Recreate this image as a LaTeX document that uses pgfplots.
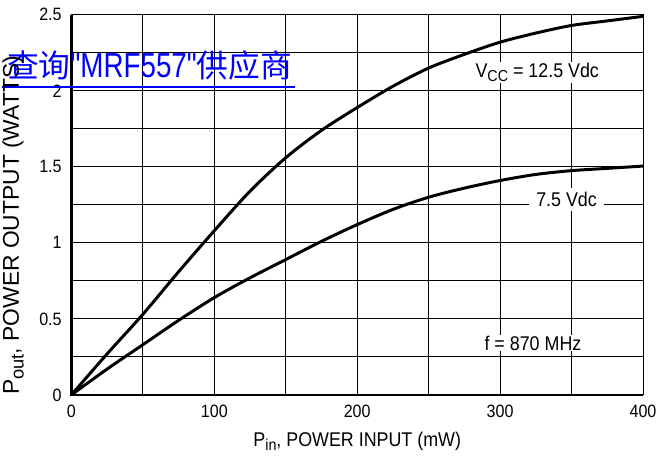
\documentclass[border=0pt]{standalone}
\usepackage{pgfplots}
\pgfplotsset{compat=1.18}
\usepackage{fontspec}
\setmainfont{Liberation Sans}[FakeStretch=0.9]
\newfontfamily\arial{Liberation Sans}
\newfontfamily\narrow{Liberation Sans}[FakeStretch=0.8]
\newfontfamily\cjk{Noto Sans CJK SC}
\newcommand{\sub}[1]{\raisebox{-0.4ex}{\fontsize{0.8\fontdimen6\font}{1em}\selectfont #1}}

\begin{document}
\fontsize{20}{24}\selectfont
\begin{tikzpicture}
\begin{axis}[
    scale only axis,
    width=576pt, height=383pt,
    xmin=0, xmax=400,
    ymin=0, ymax=2.5,
    xtick={0,100,...,400},
    minor xtick={50,150,...,350},
    ytick={0,0.5,...,2.5},
    minor ytick={0.25,0.75,...,2.25},
    grid=both,
    major grid style={black, line width=0.9pt},
    minor grid style={black, line width=0.9pt},
    major tick length=0pt, minor tick length=0pt,
    axis line style={black, line width=0.9pt},
    /pgf/number format/assume math mode=true,
    ticklabel style={font=\fontsize{18}{20}\selectfont},
    xticklabel style={yshift=-3pt},
    yticklabel style={xshift=-3pt},
    xlabel={P\sub{in}, POWER INPUT (mW)},
    ylabel={P\sub{out}, POWER OUTPUT (WATTS)},
    xlabel style={yshift=-1pt},
    ylabel style={font=\arial\fontsize{23}{27}\selectfont, inner sep=0pt,
        at={(axis description cs:-0.102,0.0)}, anchor=west},
    clip=false,
]
\addplot[black, line width=3pt, smooth] coordinates {
    (0,0) (25,0.27) (50,0.53) (75,0.81) (100,1.08) (125,1.34) (150,1.56)
    (175,1.74) (200,1.89) (225,2.03) (250,2.15) (275,2.24) (300,2.32)
    (325,2.38) (350,2.43) (375,2.46) (400,2.49)
};
\addplot[black, line width=3pt, smooth] coordinates {
    (0,0) (25,0.17) (50,0.33) (75,0.49) (100,0.64) (125,0.77) (150,0.89)
    (175,1.01) (200,1.12) (225,1.22) (250,1.30) (275,1.36) (300,1.41)
    (325,1.45) (350,1.475) (375,1.49) (400,1.505)
};
\draw[black, line width=2.2pt] (rel axis cs:0,1) -- (rel axis cs:0,0) -- (rel axis cs:1,0);
\node[fill=white, inner sep=1pt] at (axis cs:326,2.12)
    {V\sub{CC} = 12.5 Vdc};
\node[fill=white, inner xsep=7pt, inner ysep=4pt] at (axis cs:346.5,1.285) {7.5 Vdc};
\node[fill=white, inner sep=1pt] at (axis cs:323,0.34) {f = 870 MHz};
\node[anchor=base west, text=blue, inner sep=0pt] at (axis description cs:-0.113,0.834)
    {\cjk\fontsize{32}{34}\selectfont 查询{\narrow\fontsize{35}{38}\selectfont "MRF557"}供应商};
\draw[blue, line width=1.8pt] (axis description cs:-0.122,0.811) -- (axis description cs:0.391,0.811);
\path (axis description cs:-0.125,-0.170) rectangle (axis description cs:1.026,1.039);
\end{axis}
\end{tikzpicture}
\end{document}
